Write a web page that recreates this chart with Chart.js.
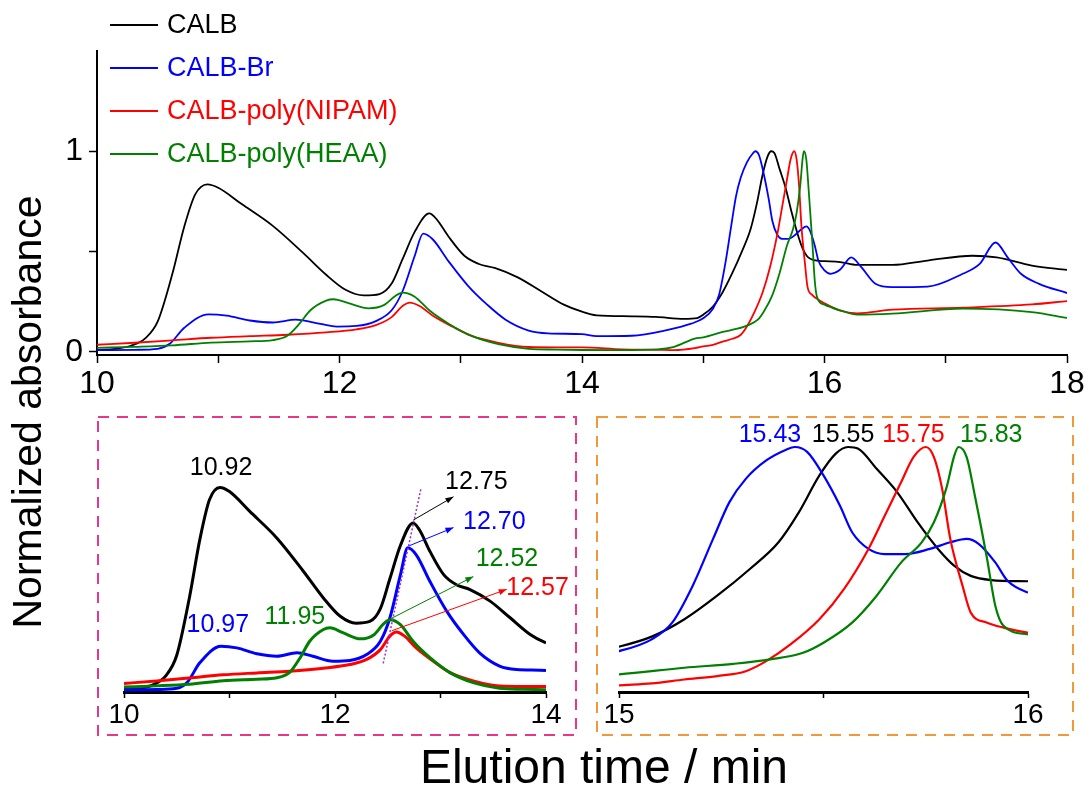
<!DOCTYPE html>
<html>
<head>
<meta charset="utf-8">
<script src="https://cdn.jsdelivr.net/npm/chart.js@4.4.0/dist/chart.umd.min.js"></script>
<style>
  html, body { margin: 0; padding: 0; background: #fff; }
  #wrap { position: relative; width: 1090px; height: 789px; }
  canvas { position: absolute; }
</style>
</head>
<body>
<div id="wrap">
  <canvas id="mainChart" width="1090" height="789" style="left:0;top:0"></canvas>
  <canvas id="leftInset" width="480" height="320" style="left:97px;top:416px"></canvas>
  <canvas id="rightInset" width="478" height="320" style="left:596px;top:416px"></canvas>
</div>
<script>
const FONT = "'Liberation Sans', Arial, Helvetica, sans-serif";
Chart.defaults.font.family = FONT;
Chart.defaults.color = '#000';

// series names and colours
const seriesNames = ['CALB', 'CALB-Br', 'CALB-poly(NIPAM)', 'CALB-poly(HEAA)'];
const seriesColors = ['#000000', '#0000ff', '#ff0000', '#008000'];

// elution time (min) / normalized absorbance
const calbTime = [10.0, 10.15, 10.28, 10.40, 10.50, 10.62, 10.72, 10.81, 10.91, 11.0, 11.19, 11.45, 11.70, 11.89, 12.05, 12.20, 12.33, 12.43, 12.52, 12.62, 12.74, 12.80, 12.90, 13.03, 13.15, 13.28, 13.47, 13.66, 13.85, 14.0, 14.12, 14.41, 14.61, 14.84, 14.95, 15.0, 15.08, 15.16, 15.24, 15.32, 15.39, 15.44, 15.49, 15.53, 15.56, 15.585, 15.63, 15.68, 15.73, 15.78, 15.82, 15.86, 15.91, 16.0, 16.13, 16.27, 16.56, 16.85, 17.22, 17.42, 17.71, 18.0];
const calbAbs = [0.01, 0.015, 0.03, 0.068, 0.15, 0.385, 0.625, 0.785, 0.835, 0.818, 0.738, 0.628, 0.493, 0.384, 0.309, 0.281, 0.288, 0.34, 0.462, 0.598, 0.69, 0.662, 0.574, 0.479, 0.438, 0.418, 0.371, 0.303, 0.235, 0.2, 0.182, 0.177, 0.174, 0.164, 0.168, 0.185, 0.226, 0.297, 0.393, 0.502, 0.611, 0.734, 0.884, 0.973, 1.0, 0.993, 0.911, 0.816, 0.693, 0.584, 0.515, 0.474, 0.457, 0.452, 0.447, 0.433, 0.433, 0.455, 0.479, 0.471, 0.43, 0.408];

const brTime = [10.0, 10.31, 10.50, 10.60, 10.72, 10.92, 11.07, 11.26, 11.45, 11.64, 11.79, 11.98, 12.14, 12.30, 12.43, 12.52, 12.62, 12.69, 12.77, 12.90, 13.06, 13.22, 13.37, 13.56, 13.72, 14.0, 14.12, 14.41, 14.70, 14.90, 15.0, 15.08, 15.13, 15.18, 15.23, 15.27, 15.31, 15.36, 15.41, 15.43, 15.46, 15.50, 15.54, 15.57, 15.61, 15.65, 15.70, 15.76, 15.81, 15.85, 15.88, 15.92, 15.95, 16.0, 16.05, 16.13, 16.22, 16.30, 16.42, 16.56, 16.85, 17.14, 17.28, 17.41, 17.51, 17.62, 17.77, 18.0];
const brAbs = [0.008, 0.01, 0.015, 0.04, 0.12, 0.187, 0.18, 0.156, 0.146, 0.16, 0.146, 0.126, 0.129, 0.153, 0.207, 0.302, 0.478, 0.589, 0.56, 0.451, 0.329, 0.234, 0.16, 0.106, 0.092, 0.088, 0.078, 0.08, 0.108, 0.14, 0.167, 0.215, 0.283, 0.433, 0.625, 0.775, 0.87, 0.945, 0.99, 1.0, 0.98, 0.884, 0.761, 0.652, 0.584, 0.563, 0.563, 0.584, 0.611, 0.625, 0.604, 0.529, 0.454, 0.406, 0.389, 0.41, 0.471, 0.425, 0.339, 0.322, 0.325, 0.389, 0.438, 0.545, 0.471, 0.389, 0.339, 0.293];

const nipamTime = [10.0, 10.31, 10.62, 10.94, 11.26, 11.57, 11.89, 12.14, 12.30, 12.43, 12.52, 12.58, 12.66, 12.77, 12.93, 13.09, 13.31, 13.56, 13.79, 14.0, 14.33, 14.62, 14.76, 14.93, 15.0, 15.08, 15.16, 15.24, 15.31, 15.36, 15.42, 15.49, 15.55, 15.61, 15.65, 15.69, 15.72, 15.75, 15.77, 15.79, 15.81, 15.84, 15.86, 15.90, 15.94, 16.0, 16.13, 16.27, 16.56, 17.14, 17.71, 18.0];
const nipamAbs = [0.035, 0.045, 0.057, 0.07, 0.078, 0.085, 0.097, 0.112, 0.133, 0.173, 0.228, 0.245, 0.228, 0.18, 0.126, 0.079, 0.045, 0.024, 0.022, 0.022, 0.012, 0.01, 0.008, 0.018, 0.027, 0.035, 0.051, 0.065, 0.085, 0.126, 0.195, 0.297, 0.42, 0.584, 0.72, 0.857, 0.959, 1.0, 0.959, 0.83, 0.625, 0.433, 0.324, 0.283, 0.263, 0.242, 0.205, 0.192, 0.21, 0.22, 0.236, 0.253];

const heaaTime = [10.0, 10.31, 10.62, 10.94, 11.26, 11.45, 11.57, 11.67, 11.76, 11.89, 11.95, 12.08, 12.24, 12.37, 12.46, 12.52, 12.62, 12.74, 12.90, 13.09, 13.31, 13.56, 13.79, 14.0, 14.33, 14.62, 14.76, 14.93, 15.0, 15.16, 15.28, 15.37, 15.45, 15.50, 15.57, 15.63, 15.69, 15.74, 15.77, 15.80, 15.82, 15.83, 15.85, 15.87, 15.90, 15.92, 15.94, 16.0, 16.13, 16.27, 16.56, 17.14, 17.71, 18.0];
const heaaAbs = [0.02, 0.025, 0.032, 0.046, 0.052, 0.058, 0.08, 0.14, 0.207, 0.255, 0.262, 0.241, 0.217, 0.234, 0.278, 0.295, 0.275, 0.207, 0.14, 0.079, 0.038, 0.015, 0.011, 0.009, 0.008, 0.012, 0.025, 0.066, 0.072, 0.099, 0.115, 0.133, 0.16, 0.201, 0.283, 0.393, 0.529, 0.611, 0.693, 0.83, 0.966, 1.0, 0.959, 0.802, 0.543, 0.352, 0.27, 0.235, 0.207, 0.185, 0.19, 0.215, 0.198, 0.169];

// tick values
const mainXTicks = [10, 11, 12, 13, 14, 15, 16, 17, 18];
const mainXLabels = [10, 12, 14, 16, 18];
const mainYTicks = [0, 0.5, 1];
const mainYLabels = [0, 1];
const leftXTicks = [10, 11, 12, 13, 14];
const leftXLabels = [10, 12, 14];
const rightXTicks = [15, 15.5, 16];
const rightXLabels = [15, 16];

// peak retention times written in the insets
const leftPeaks = ['10.92', '10.97', '11.95', '12.75', '12.70', '12.52', '12.57'];
const rightPeaks = ['15.43', '15.55', '15.75', '15.83'];

const times = [calbTime, brTime, nipamTime, heaaTime];
const values = [calbAbs, brAbs, nipamAbs, heaaAbs];

const makeDatasets = (width) => seriesNames.map((name, i) => ({
  label: name,
  data: times[i].map((t, k) => ({ x: t, y: values[i][k] })),
  borderColor: seriesColors[i],
  borderWidth: width,
  pointRadius: 0,
  cubicInterpolationMode: 'monotone',
  fill: false,
  order: 3 - i,
}));

const xAxis = (min, max, ticks, labels, size, tickLen, pad, fitHeight, borderW) => ({
  type: 'linear',
  min: min,
  max: max,
  afterBuildTicks: (s) => { s.ticks = ticks.map((v) => ({ value: v })); },
  ticks: {
    callback: (v) => (labels.includes(v) ? String(v) : ''),
    font: { size: size },
    padding: pad,
    maxRotation: 0,
    autoSkip: false,
    color: '#000',
  },
  grid: { drawOnChartArea: false, tickLength: tickLen, tickColor: '#000', tickWidth: 1.5 },
  border: { color: '#000', width: borderW },
  afterFit: (s) => { s.height = fitHeight; },
});

// legend + axis titles of the big plot
const mainDecor = {
  id: 'mainDecor',
  afterDraw(chart) {
    const c = chart.ctx;
    c.save();
    c.font = '27px ' + FONT;
    c.textBaseline = 'middle';
    c.textAlign = 'left';
    seriesNames.forEach((name, i) => {
      const y = 25 + i * 43;
      c.strokeStyle = seriesColors[i];
      c.lineWidth = 2;
      c.beginPath();
      c.moveTo(110, y);
      c.lineTo(158, y);
      c.stroke();
      c.fillStyle = seriesColors[i];
      c.fillText(name, 167, y + 1);
    });
    c.fillStyle = '#000';
    c.textAlign = 'center';
    c.font = '48px ' + FONT;
    c.fillText('Elution time / min', 604, 770);
    c.translate(30, 412);
    c.rotate(-Math.PI / 2);
    c.font = '41px ' + FONT;
    c.fillText('Normalized absorbance', 0, 0);
    c.restore();
  },
};

// dashed frame, peak labels and arrows of an inset
const insetDecor = {
  id: 'insetDecor',
  afterDraw(chart, args, opts) {
    const c = chart.ctx;
    const xs = chart.scales.x;
    const ys = chart.scales.y;
    const px = (p) => [xs.getPixelForValue(p[0]), ys.getPixelForValue(p[1])];
    c.save();
    c.strokeStyle = opts.boxColor;
    c.lineWidth = 2;
    c.setLineDash([11, 8]);
    c.strokeRect(1, 1, chart.width - 2, chart.height - 2);

    if (opts.guide) {
      const a = px(opts.guide[0]);
      const b = px(opts.guide[1]);
      c.strokeStyle = '#9b30d0';
      c.lineWidth = 1.5;
      c.setLineDash([2, 2]);
      c.beginPath();
      c.moveTo(a[0], a[1]);
      c.lineTo(b[0], b[1]);
      c.stroke();
    }
    c.setLineDash([]);

    (opts.arrows || []).forEach((ar) => {
      const a = px(ar.from);
      const b = px(ar.to);
      const ang = Math.atan2(b[1] - a[1], b[0] - a[0]);
      c.strokeStyle = seriesColors[ar.series];
      c.fillStyle = seriesColors[ar.series];
      c.lineWidth = 1;
      c.beginPath();
      c.moveTo(a[0], a[1]);
      c.lineTo(b[0], b[1]);
      c.stroke();
      c.beginPath();
      c.moveTo(b[0], b[1]);
      c.lineTo(b[0] - 8 * Math.cos(ang) + 3 * Math.sin(ang), b[1] - 8 * Math.sin(ang) - 3 * Math.cos(ang));
      c.lineTo(b[0] - 8 * Math.cos(ang) - 3 * Math.sin(ang), b[1] - 8 * Math.sin(ang) + 3 * Math.cos(ang));
      c.closePath();
      c.fill();
    });

    c.font = '25px ' + FONT;
    c.textAlign = 'center';
    c.textBaseline = 'middle';
    opts.notes.forEach((n) => {
      const p = px(n.at);
      c.fillStyle = seriesColors[n.series];
      c.fillText(n.text, p[0], p[1]);
    });
    c.restore();
  },
};

// main plot
new Chart(document.getElementById('mainChart'), {
  type: 'line',
  data: { datasets: makeDatasets(1.8) },
  options: {
    responsive: false,
    animation: false,
    layout: { padding: { left: 0, top: 51, right: 23, bottom: 384 } },
    plugins: { legend: { display: false }, tooltip: { enabled: false } },
    scales: {
      x: xAxis(10, 18, mainXTicks, mainXLabels, 32, 8, 2, 50, 2),
      y: {
        type: 'linear',
        min: -0.016,
        max: 1.5,
        afterBuildTicks: (s) => { s.ticks = mainYTicks.map((v) => ({ value: v })); },
        ticks: {
          callback: (v) => (mainYLabels.includes(v) ? String(v) : ''),
          font: { size: 32 },
          padding: 6,
          color: '#000',
        },
        grid: { drawOnChartArea: false, tickLength: 8, tickColor: '#000', tickWidth: 1.5 },
        border: { color: '#000', width: 2 },
        afterFit: (s) => { s.width = 97; },
      },
    },
  },
  plugins: [mainDecor],
});

// left inset (10-14 min)
new Chart(document.getElementById('leftInset'), {
  type: 'line',
  data: { datasets: makeDatasets(3) },
  options: {
    responsive: false,
    animation: false,
    layout: { padding: { left: 27, top: 0, right: 31, bottom: 0 } },
    plugins: {
      legend: { display: false },
      tooltip: { enabled: false },
      insetDecor: {
        boxColor: '#e8378b',
        guide: [[12.457, 0.117], [12.815, 0.831]],
        arrows: [
          { series: 0, from: [12.743, 0.702], to: [13.123, 0.797] },
          { series: 1, from: [12.704, 0.597], to: [13.123, 0.671] },
          { series: 3, from: [12.537, 0.301], to: [13.311, 0.471] },
          { series: 2, from: [12.537, 0.25], to: [13.628, 0.419] },
        ],
        notes: [
          { text: leftPeaks[0], series: 0, at: [10.92, 0.914] },
          { text: leftPeaks[1], series: 1, at: [10.89, 0.273] },
          { text: leftPeaks[2], series: 3, at: [11.62, 0.306] },
          { text: leftPeaks[3], series: 0, at: [13.34, 0.857] },
          { text: leftPeaks[4], series: 1, at: [13.51, 0.694] },
          { text: leftPeaks[5], series: 3, at: [13.63, 0.543] },
          { text: leftPeaks[6], series: 2, at: [13.92, 0.424] },
        ],
      },
    },
    scales: {
      x: xAxis(10, 14, leftXTicks, leftXLabels, 28, 6, 0, 44, 3),
      y: { type: 'linear', display: false, min: 0, max: 276 / 245 },
    },
  },
  plugins: [insetDecor],
});

// right inset (15-16 min)
new Chart(document.getElementById('rightInset'), {
  type: 'line',
  data: { datasets: makeDatasets(2.2) },
  options: {
    responsive: false,
    animation: false,
    layout: { padding: { left: 23, top: 0, right: 46, bottom: 0 } },
    plugins: {
      legend: { display: false },
      tooltip: { enabled: false },
      insetDecor: {
        boxColor: '#f0983a',
        notes: [
          { text: rightPeaks[0], series: 1, at: [15.369, 1.05] },
          { text: rightPeaks[1], series: 0, at: [15.548, 1.05] },
          { text: rightPeaks[2], series: 2, at: [15.72, 1.05] },
          { text: rightPeaks[3], series: 3, at: [15.91, 1.05] },
        ],
      },
    },
    scales: {
      x: xAxis(15, 16, rightXTicks, rightXLabels, 28, 6, 0, 44, 3),
      y: { type: 'linear', display: false, min: 0, max: 276 / 245 },
    },
  },
  plugins: [insetDecor],
});
</script>
</body>
</html>
